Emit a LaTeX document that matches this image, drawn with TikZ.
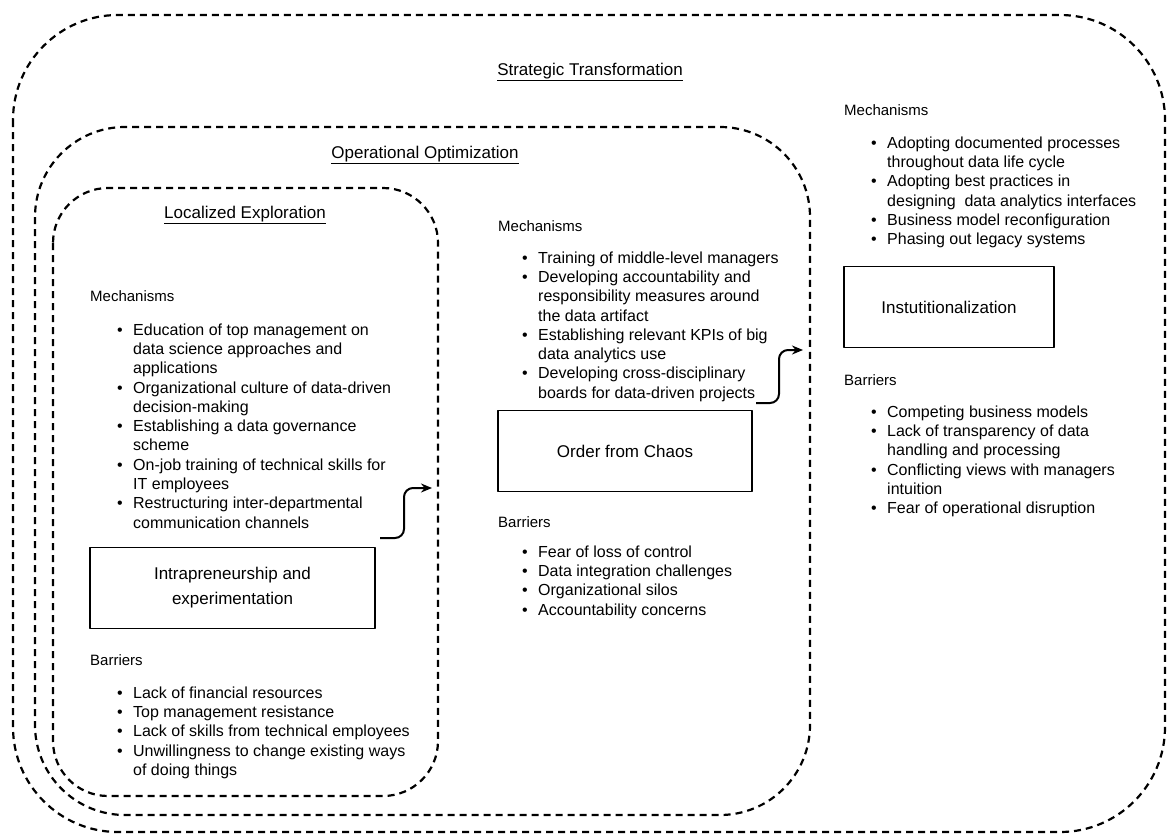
\documentclass[tikz,border=0pt]{standalone}
\usepackage{fontspec}
\setmainfont{Liberation Sans}
\usetikzlibrary{arrows.meta}
\newcommand{\bl}{\makebox[16pt][l]{\textbullet}}
\newcommand{\ind}{\hspace*{16pt}}
\begin{document}
\begin{tikzpicture}[x=1pt,y=-1pt,>={Stealth[length=11pt,width=9pt]},line join=round,
	zone/.style={draw,dash pattern=on 7pt off 5pt,line width=2.2pt},
	stage/.style={draw,line width=1.6pt,minimum height=81pt,align=center,inner sep=2pt,font=\fontsize{17}{25}\selectfont},
	ttl/.style={inner sep=0pt,font=\fontsize{17}{20}\selectfont},
	head/.style={anchor=west,inner sep=0pt,font=\fontsize{15}{18}\selectfont},
	lst/.style={anchor=north west,inner sep=0pt,align=left,font=\fontsize{16}{19.3}\selectfont},
	flow/.style={->,line width=2pt,rounded corners=9pt}]
	\useasboundingbox (0,0) rectangle (1170,835);
	% nested zones
	\draw[zone,rounded corners=105pt] (13,15) rectangle (1165,832);
	\draw[zone,rounded corners=90pt] (35,127) rectangle (810,815);
	\draw[zone,rounded corners=55pt] (53,188) rectangle (438,796);
	\node[ttl] (strat) at (590,72) {\underline{Strategic Transformation}};
	\node[ttl] (oper) at (425,155) {\underline{Operational Optimization}};
	\node[ttl] (local) at (245,215) {\underline{Localized Exploration}};
	% localized exploration
	\node[head] (lmech) at (90,296) {Mechanisms};
	\node[lst] (lmlist) at (117,323.4) {\bl Education of top management on\\ \ind data science approaches and\\ \ind applications\\
		\bl Organizational culture of data-driven\\ \ind decision-making\\ \bl Establishing a data governance\\ \ind scheme\\
		\bl On-job training of technical skills for\\ \ind IT employees\\ \bl Restructuring inter-departmental\\ \ind communication channels};
	\node[stage,minimum width=285pt] (intra) at (232.5,588) {Intrapreneurship and\\experimentation};
	\node[head] (lbar) at (90,660) {Barriers};
	\node[lst] (lblist) at (117,686.4) {\bl Lack of financial resources\\ \bl Top management resistance\\
		\bl Lack of skills from technical employees\\ \bl Unwillingness to change existing ways\\ \ind of doing things};
	% operational optimization
	\node[head] (mmech) at (498,226) {Mechanisms};
	\node[lst] (mmlist) at (522,251.4) {\bl Training of middle-level managers\\ \bl Developing accountability and\\
		\ind responsibility measures around\\ \ind the data artifact\\ \bl Establishing relevant KPIs of big\\
		\ind data analytics use\\ \bl Developing cross-disciplinary\\ \ind boards for data-driven projects};
	\node[stage,minimum width=254pt] (order) at (625,451) {Order from Chaos};
	\node[head] (mbar) at (498,522) {Barriers};
	\node[lst] (mblist) at (522,545.4) {\bl Fear of loss of control\\ \bl Data integration challenges\\
		\bl Organizational silos\\ \bl Accountability concerns};
	% strategic transformation
	\node[head] (smech) at (844,110) {Mechanisms};
	\node[lst] (smlist) at (871,136.4) {\bl Adopting documented processes\\ \ind throughout data life cycle\\
		\bl Adopting best practices in\\ \ind designing~ data analytics interfaces\\
		\bl Business model reconfiguration\\ \bl Phasing out legacy systems};
	\node[stage,minimum width=210pt] (inst) at (949,307) {Instutitionalization};
	\node[head] (sbar) at (844,380) {Barriers};
	\node[lst] (sblist) at (871,405.4) {\bl Competing business models\\ \bl Lack of transparency of data\\
		\ind handling and processing\\ \bl Conflicting views with managers\\ \ind intuition\\
		\bl Fear of operational disruption};
	% transitions
	\coordinate (s1) at (380,538); \coordinate (t1) at (432,488);
	\coordinate (s2) at (756,403); \coordinate (t2) at (803,350);
	\draw[flow] (s1) -- ++(24,0) |- (t1);
	\draw[flow] (s2) -- ++(23,0) |- (t2);
\end{tikzpicture}
\end{document}
